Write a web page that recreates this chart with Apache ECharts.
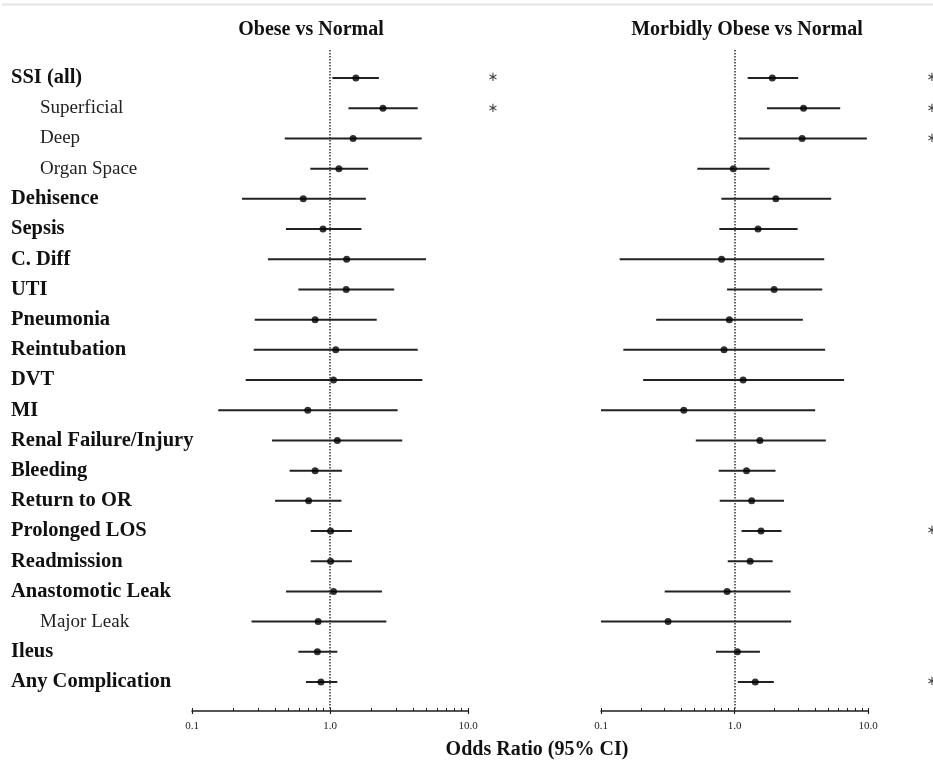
<!DOCTYPE html>
<html>
<head>
<meta charset="utf-8">
<script src="https://cdn.jsdelivr.net/npm/echarts@6/dist/echarts.min.js"></script>
<style>
html,body{margin:0;padding:0;background:#fff;}
#chart{width:933px;height:765px;}
</style>
</head>
<body>
<div id="chart"></div>
<script>
// ---- Data ----
const categories = ['SSI (all)','Superficial','Deep','Organ Space','Dehisence','Sepsis','C. Diff','UTI','Pneumonia','Reintubation','DVT','MI','Renal Failure/Injury','Bleeding','Return to OR','Prolonged LOS','Readmission','Anastomotic Leak','Major Leak','Ileus','Any Complication'];
const subItems = ['Superficial','Deep','Organ Space','Major Leak'];

// Obese vs Normal
const obeseOR  = [1.54,2.42,1.47,1.16,0.64,0.89,1.32,1.31,0.78,1.10,1.06,0.69,1.13,0.78,0.70,1.01,1.01,1.06,0.82,0.81,0.86];
const obeseLo  = [1.04,1.36,0.47,0.72,0.23,0.48,0.355,0.59,0.285,0.28,0.245,0.155,0.38,0.51,0.40,0.725,0.725,0.48,0.27,0.59,0.67];
const obeseHi  = [2.26,4.32,4.62,1.89,1.82,1.69,4.96,2.92,2.18,4.32,4.67,3.09,3.34,1.22,1.21,1.44,1.44,2.38,2.56,1.13,1.13];
const obeseSig = [1,1,0,0,0,0,0,0,0,0,0,0,0,0,0,0,0,0,0,0,0];

// Morbidly Obese vs Normal
const morbidOR  = [1.92,3.29,3.21,0.98,2.04,1.50,0.80,1.98,0.915,0.835,1.16,0.417,1.55,1.23,1.345,1.58,1.31,0.88,0.318,1.05,1.43];
const morbidLo  = [1.255,1.75,1.07,0.527,0.797,0.77,0.138,0.88,0.259,0.147,0.207,0.10,0.513,0.762,0.775,1.13,0.89,0.30,0.10,0.727,1.06];
const morbidHi  = [3.0,6.19,9.8,1.83,5.3,2.97,4.7,4.54,3.25,4.77,6.62,4.02,4.83,2.03,2.35,2.25,1.93,2.63,2.66,1.55,1.97];
const morbidSig = [1,1,1,0,0,0,0,0,0,0,0,0,0,0,0,1,0,0,0,0,1];

const xTicksMajor = [0.1, 1, 10];
const xTicksAll = [0.1,0.2,0.3,0.4,0.5,0.6,0.7,0.8,0.9,1,2,3,4,5,6,7,8,9,10];
const titles = ['Obese vs Normal','Morbidly Obese vs Normal'];
const axisTitle = 'Odds Ratio (95% CI)';

// ---- Build ----
const rowIdx = categories.map((_, i) => i);
const SERIF = "'Liberation Serif','DejaVu Serif',serif";
const INK = '#1e1e1e';

function xAxesFor(g) {
  return [
    {
      type: 'log', logBase: 10, min: 0.1, max: 10, gridIndex: g, position: 'bottom',
      axisLine: { show: true, onZero: false, lineStyle: { color: INK, width: 1.5 } },
      axisTick: { show: true, inside: true, length: 3, customValues: xTicksAll, lineStyle: { color: INK, width: 1 } },
      minorTick: { show: false },
      splitLine: { show: false },
      axisLabel: { show: true, customValues: xTicksMajor, margin: 10, fontSize: 11, fontFamily: SERIF, color: '#222',
        formatter: v => Number(v).toFixed(1) }
    },
    {
      type: 'log', logBase: 10, min: 0.1, max: 10, gridIndex: g, position: 'bottom',
      axisLine: { show: false, onZero: false },
      axisTick: { show: true, inside: false, length: 3, customValues: xTicksMajor, lineStyle: { color: INK, width: 1.2 } },
      splitLine: { show: false },
      axisLabel: { show: false }
    }
  ];
}

function yAxesFor(g, withLabels, sig, starMargin) {
  return [
    {
      type: 'value', gridIndex: g, inverse: true, min: -0.93, max: 20.96, position: 'left',
      axisLine: { show: false, onZero: false }, axisTick: { show: false }, splitLine: { show: false },
      axisLabel: withLabels ? {
        show: true, customValues: rowIdx, align: 'left', margin: 181,
        formatter: v => {
          const name = categories[Math.round(v)];
          if (name === undefined) return '';
          return subItems.includes(name) ? '{s|' + name + '}' : '{b|' + name + '}';
        },
        rich: {
          b: { fontFamily: SERIF, fontSize: 20.5, fontWeight: 'bold', color: '#111' },
          s: { fontFamily: SERIF, fontSize: 19, color: '#222', padding: [0, 0, 0, 29] }
        }
      } : { show: false }
    },
    {
      type: 'value', gridIndex: g, inverse: true, min: -0.93, max: 20.96, position: 'right',
      axisLine: { show: false, onZero: false }, axisTick: { show: false }, splitLine: { show: false },
      axisLabel: {
        show: true, customValues: rowIdx, align: 'center', margin: starMargin,
        fontFamily: "'DejaVu Sans',sans-serif", fontSize: 13, color: '#444',
        formatter: v => (sig[Math.round(v)] ? '\u2217' : '')
      }
    }
  ];
}

function seriesFor(g, or, lo, hi) {
  return [
    {
      type: 'custom', xAxisIndex: g * 2, yAxisIndex: g * 2,
      data: rowIdx.map(i => [lo[i], hi[i], i]),
      encode: { x: [0, 1], y: 2 },
      renderItem: (params, api) => {
        const a = api.coord([api.value(0), api.value(2)]);
        const b = api.coord([api.value(1), api.value(2)]);
        return { type: 'line', shape: { x1: a[0], y1: a[1], x2: b[0], y2: b[1] },
          style: { stroke: '#222', lineWidth: 2 } };
      },
      markLine: {
        silent: true, symbol: 'none', label: { show: false },
        lineStyle: { type: 'dotted', color: '#333', width: 1.5 },
        data: [{ xAxis: 1 }]
      },
      z: 2
    },
    {
      type: 'scatter', xAxisIndex: g * 2, yAxisIndex: g * 2,
      data: rowIdx.map(i => [or[i], i]),
      symbol: 'circle', symbolSize: 7,
      itemStyle: { color: '#000' },
      z: 3
    }
  ];
}

const chart = echarts.init(document.getElementById('chart'), null, { renderer: 'canvas' });
chart.setOption({
  animation: false,
  backgroundColor: '#fff',
  grid: [
    { left: 192, right: 465, top: 50, bottom: 54, containLabel: false, outerBoundsMode: 'none' },
    { left: 601, right: 65, top: 50, bottom: 54, containLabel: false, outerBoundsMode: 'none' }
  ],
  xAxis: [...xAxesFor(0), ...xAxesFor(1)],
  yAxis: [...yAxesFor(0, true, obeseSig, 25), ...yAxesFor(1, false, morbidSig, 64)],
  series: [...seriesFor(0, obeseOR, obeseLo, obeseHi), ...seriesFor(1, morbidOR, morbidLo, morbidHi)],
  graphic: [
    { type: 'line', shape: { x1: 2, y1: 4.5, x2: 933, y2: 4.5 }, style: { stroke: '#e4e4e4', lineWidth: 2 } },
    { type: 'text', x: 311, y: 30, style: { text: titles[0], font: "bold 20px " + SERIF, fill: '#111', align: 'center', verticalAlign: 'middle' } },
    { type: 'text', x: 747, y: 30, style: { text: titles[1], font: "bold 20px " + SERIF, fill: '#111', align: 'center', verticalAlign: 'middle' } },
    { type: 'text', x: 537, y: 750, style: { text: axisTitle, font: "bold 20px " + SERIF, fill: '#111', align: 'center', verticalAlign: 'middle' } }
  ]
});
</script>
</body>
</html>
